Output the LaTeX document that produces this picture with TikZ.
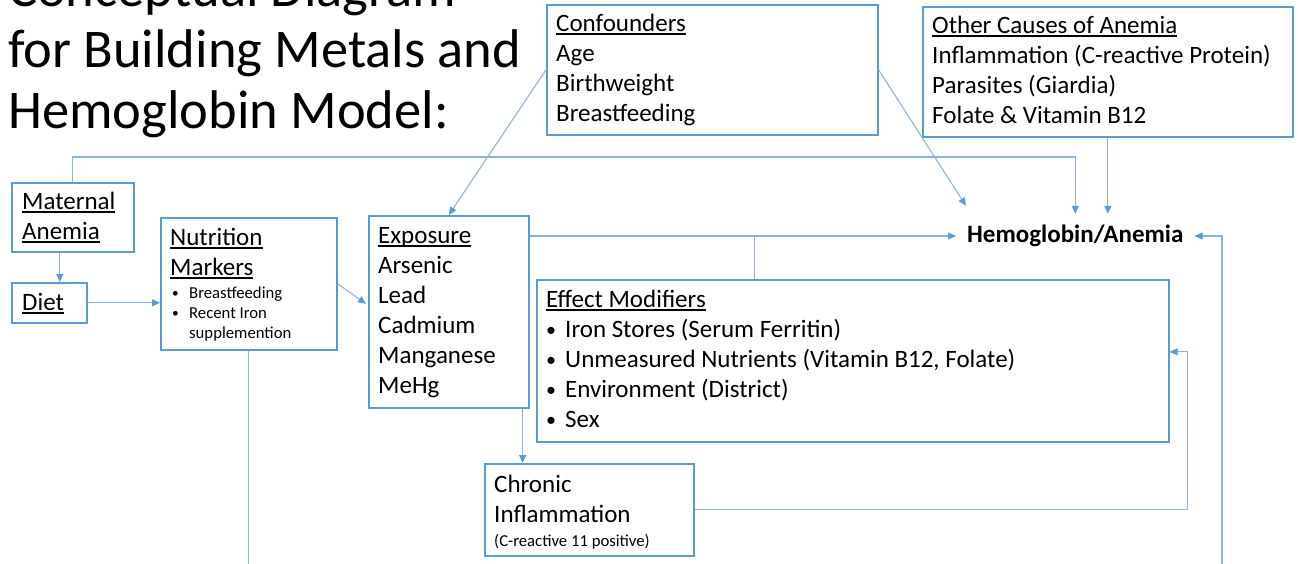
\documentclass[tikz,border=0pt]{standalone}
\usepackage{fontspec}
\setmainfont{Carlito}
\usetikzlibrary{arrows.meta}
\definecolor{boxblue}{HTML}{5B9BD5}
\definecolor{lineblue}{HTML}{8AB4E3}
\newcommand\myul[1]{\leavevmode\setbox0\hbox{#1}\rlap{\rule[-3.5pt]{\wd0}{1.3pt}}\box0}
\newcommand\blt[1]{\leavevmode\makebox[#1][l]{\raisebox{1pt}{\scalebox{0.8}{\textbullet}}}}
\begin{document}
\begin{tikzpicture}[x=1pt,y=-1pt,
 box/.style={draw=boxblue, line width=1.6pt, anchor=north west, inner sep=0pt},
 txt/.style={anchor=base west, inner sep=0pt, font=\fontsize{25}{30}\selectfont},
 small/.style={anchor=base west, inner sep=0pt, font=\fontsize{16.7}{20}\selectfont},
 conn/.style={draw=lineblue, line width=1.1pt},
 arr/.style={conn, -{Triangle[length=8pt,width=7pt,color=boxblue]}}]
\useasboundingbox (0,0) rectangle (1298,563);
\clip (0,0) rectangle (1298,563);

% title
\node[anchor=base west, inner sep=0pt, font=\fontsize{54.5}{61}\selectfont] (title) at (8,6)
  {\parbox[t]{700pt}{Conceptual Diagram\\for Building Metals and\\Hemoglobin Model:}};

% boxes
\node[box, minimum width=331pt, minimum height=130pt] (conf) at (546,4) {};
\node[box, minimum width=370pt, minimum height=130pt] (other) at (922,6) {};
\node[box, minimum width=122pt, minimum height=69pt] (mat) at (11,182) {};
\node[box, minimum width=75pt, minimum height=40pt] (diet) at (11,282) {};
\node[box, minimum width=176pt, minimum height=132pt] (nutr) at (160,217) {};
\node[box, minimum width=160pt, minimum height=192pt] (expo) at (368,215) {};
\node[box, minimum width=632pt, minimum height=162pt] (effm) at (536,279) {};
\node[box, minimum width=209pt, minimum height=92pt] (chron) at (484,463) {};
\node[anchor=base west, inner xsep=11pt, inner ysep=10pt, text height=18pt, text depth=6pt,
      font=\fontsize{25}{30}\selectfont\bfseries] (hemo) at (956,242) {Hemoglobin/Anemia};

% texts
\node[txt] (conft) at (556,31) {\parbox[t]{300pt}{\myul{Confounders}\\Age\\Birthweight\\Breastfeeding}};
\node[txt] (othert) at (932,33) {\parbox[t]{360pt}{\myul{Other Causes of Anemia}\\Inflammation (C-reactive Protein)\\Parasites (Giardia)\\Folate \& Vitamin B12}};
\node[txt] (matt) at (22,209) {\parbox[t]{110pt}{\myul{Maternal}\\\myul{Anemia}}};
\node[txt] (dgett) at (22,310) {\myul{Diet}};
\node[txt] (nutrt) at (170,245) {\parbox[t]{160pt}{\myul{Nutrition}\\\myul{Markers}}};
\node[small] (nutrb) at (172,298) {\parbox[t]{160pt}{\blt{17pt}Breastfeeding\\\blt{17pt}Recent Iron\\\hspace*{17pt}supplemention}};
\node[txt] (expot) at (378,243) {\parbox[t]{150pt}{\myul{Exposure}\\Arsenic\\Lead\\Cadmium\\Manganese\\MeHg}};
\node[txt] (effmt) at (546,307) {\parbox[t]{600pt}{\myul{Effect Modifiers}\\\blt{19pt}Iron Stores (Serum Ferritin)\\\blt{19pt}Unmeasured Nutrients (Vitamin B12, Folate)\\\blt{19pt}Environment (District)\\\blt{19pt}Sex}};
\node[txt] (chront) at (494,492) {\parbox[t]{200pt}{Chronic\\Inflammation}};
\node[small] (chrons) at (494,546) {(C-reactive 11 positive)};

% connectors
\draw[arr] (mat.north) -- (mat.north |- 0,157) -| (hemo.north);
\draw[arr] (other.south) -- (other.south |- hemo.north);
\draw[arr] (conf.east) -- ([shift={(10pt,8pt)}]hemo.north west);
\draw[arr] (conf.west) -- (expo.north);
\draw[arr] ([xshift=-13pt]mat.south) -- ([xshift=-13pt]mat.south |- diet.north);
\draw[arr] (diet.east) -- (diet.east -| nutr.west);
\draw[arr] (nutr.east) -- ([shift={(-2pt,8pt)}]expo.west);
\draw[conn] (nutr.south) -- ++(0,230);
\draw[arr] (expo.east |- hemo.west) -- (hemo.west);
\draw[conn] ([xshift=-98pt]effm.north) -- ([xshift=-98pt]effm.north |- hemo.west);
\draw[arr] ([xshift=-7pt]expo.south east) -- ([xshift=-7pt]expo.south east |- chron.north);
\draw[arr] (chron.east) -| ([shift={(18pt,9pt)}]effm.east) -- ([yshift=9pt]effm.east);
\coordinate (rb) at (1222,575);
\draw[arr] (rb) |- (hemo.east);
\end{tikzpicture}
\end{document}
